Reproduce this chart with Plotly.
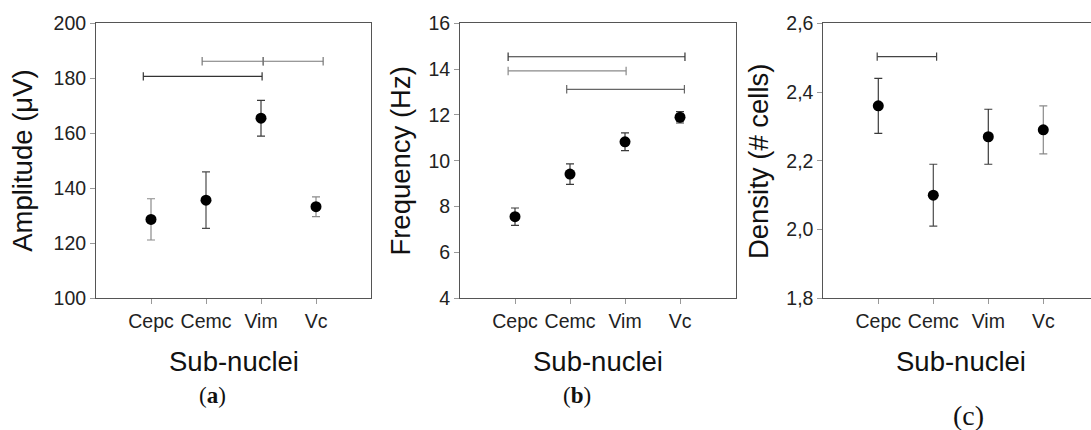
import plotly.graph_objects as go

categories = ["Cepc", "Cemc", "Vim", "Vc"]
cat_pos = [1, 2, 3, 4]

amp_mean = [128.7, 135.7, 165.5, 133.3]
amp_err = [7.5, 10.3, 6.5, 3.6]
freq_mean = [7.56, 9.42, 10.83, 11.90]
freq_err = [0.38, 0.45, 0.39, 0.25]
dens_mean = [2.36, 2.10, 2.27, 2.29]
dens_err = [0.08, 0.09, 0.08, 0.07]

# error bar colours per point
amp_err_col = ["#8a8a8a", "#4a4a4a", "#3a3a3a", "#8a8a8a"]
freq_err_col = ["#3a3a3a", "#3a3a3a", "#3a3a3a", "#3a3a3a"]
dens_err_col = ["#3a3a3a", "#4a4a4a", "#3a3a3a", "#8a8a8a"]

# significance brackets: (x start, x end, y level, colour)
amp_brackets = [(0.86, 3.02, 180.7, "#333333"), (1.93, 3.04, 186.2, "#777777"), (3.04, 4.13, 186.2, "#777777")]
freq_brackets = [(0.875, 4.09, 14.54, "#333333"), (0.875, 3.02, 13.92, "#8a8a8a"), (1.94, 4.08, 13.12, "#666666")]
dens_brackets = [(0.98, 2.06, 2.503, "#444444")]

amp_ticks = [100, 120, 140, 160, 180, 200]
freq_ticks = [4, 6, 8, 10, 12, 14, 16]
dens_ticks = [1.8, 2.0, 2.2, 2.4, 2.6]
dens_ticktext = ["1,8", "2,0", "2,2", "2,4", "2,6"]

W, H = 1091, 430
fig = go.Figure()

panels = [
    ("x", "y", amp_mean, amp_err, amp_err_col, amp_brackets),
    ("x2", "y2", freq_mean, freq_err, freq_err_col, freq_brackets),
    ("x3", "y3", dens_mean, dens_err, dens_err_col, dens_brackets),
]

for xa, ya, means, errs, cols, brs in panels:
    for xs, xe, yl, c in brs:
        fig.add_trace(go.Scatter(
            x=[xs, xe], y=[yl, yl], xaxis=xa, yaxis=ya, mode="lines+markers",
            line=dict(color=c, width=1.2),
            marker=dict(symbol="line-ns", size=6, line=dict(color=c, width=1.2)),
            showlegend=False, hoverinfo="skip"))
    for i in range(len(categories)):
        fig.add_trace(go.Scatter(
            x=[cat_pos[i]], y=[means[i]], xaxis=xa, yaxis=ya, mode="markers",
            marker=dict(color="black", size=11),
            error_y=dict(type="data", array=[errs[i]], color=cols[i], thickness=1.2, width=4),
            showlegend=False))

axis_line = "#555555"
tick_col = "#999999"
font_tick = dict(family="Liberation Sans, Arial, sans-serif", size=19.5, color="#222222")

common_x = dict(tickvals=cat_pos, ticktext=categories, showgrid=False, zeroline=False,
                showline=True, linecolor=axis_line, linewidth=1, mirror=True,
                ticks="outside", ticklen=5, tickcolor=tick_col, tickfont=font_tick)
common_y = dict(showgrid=False, zeroline=False, showline=True, linecolor=axis_line, linewidth=1,
                ticks="outside", ticklen=5, tickcolor=tick_col, tickfont=font_tick)

ydom = [1 - 298.3 / H, 1 - 23.3 / H]

fig.update_layout(
    width=W, height=H, margin=dict(l=0, r=0, t=0, b=0, autoexpand=False),
    paper_bgcolor="white", plot_bgcolor="white",
    xaxis=dict(domain=[96 / W, 371 / W], range=[0, 5], anchor="y", **common_x),
    yaxis=dict(domain=ydom, range=[100, 200], tickvals=amp_ticks, anchor="x", mirror=True, **common_y),
    xaxis2=dict(domain=[460 / W, 736 / W], range=[0, 5.018], anchor="y2", **common_x),
    yaxis2=dict(domain=ydom, range=[4, 16], tickvals=freq_ticks, anchor="x2", mirror=True, **common_y),
    xaxis3=dict(domain=[823.3 / W, 1.0], range=[0, (W - 823.3) / 55.0], anchor="y3", **common_x),
    yaxis3=dict(domain=ydom, range=[1.8, 2.6], tickvals=dens_ticks, ticktext=dens_ticktext,
                anchor="x3", mirror=False, **common_y),
)

title_font = dict(family="Liberation Sans, Arial, sans-serif", size=27.5, color="#111111")
ycenter = 1 - 160.8 / H

ytitles = [("Amplitude (μV)", 23), ("Frequency (Hz)", 400.8), ("Density (# cells)", 758.3)]
for txt, px in ytitles:
    fig.add_annotation(text=txt, xref="paper", yref="paper", x=px / W, y=ycenter,
                       textangle=-90, showarrow=False, font=title_font,
                       xanchor="center", yanchor="middle")

for xr in ["x", "x2", "x3"]:
    fig.add_annotation(text="Sub-nuclei", xref=xr, yref="paper", x=2.5, y=1 - 361.7 / H,
                       showarrow=False, font=title_font, xanchor="center", yanchor="middle")

label_font = dict(family="Liberation Serif, Times New Roman, serif", size=23, color="#111111")
plabels = [("(<b>a</b>)", 212, 395), ("(<b>b</b>)", 576.7, 395), ("(c)", 968, 415)]
for txt, px, py in plabels:
    fig.add_annotation(text=txt, xref="paper", yref="paper", x=px / W, y=1 - py / H,
                       showarrow=False, font=label_font if txt != "(c)" else dict(label_font, size=28),
                       xanchor="center", yanchor="middle")

fig.write_html("out.html")
